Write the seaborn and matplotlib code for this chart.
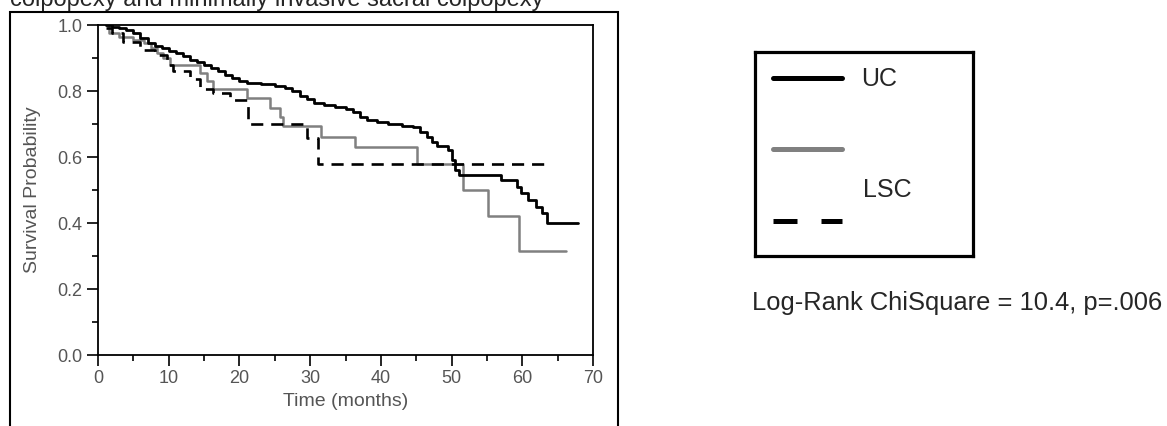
import matplotlib
matplotlib.use("Agg")
import matplotlib.pyplot as plt
import seaborn as sns
import pandas as pd
from matplotlib.lines import Line2D
from matplotlib.patches import Rectangle

# Kaplan-Meier step points (time in months, survival probability)
uc_time = [1.2, 2, 3, 4, 5, 6, 7, 8, 9, 10, 11, 12, 13, 14, 15, 16, 17, 18, 19, 20,
           21, 23, 25, 26.5, 27.5, 28.5, 29.5, 30.5, 32, 33.5, 35, 36, 37, 38, 39.5,
           41, 43, 44.5, 45.5, 46.5, 47.2, 48, 49.5, 50, 50.5, 51, 57, 59.3, 59.8,
           60.8, 62, 62.8, 63.5, 67.9]
uc_surv = [1.0, 0.995, 0.99, 0.985, 0.975, 0.96, 0.945, 0.935, 0.93, 0.92, 0.915, 0.905,
           0.895, 0.888, 0.878, 0.87, 0.86, 0.848, 0.838, 0.83, 0.824, 0.82, 0.815, 0.81,
           0.80, 0.785, 0.775, 0.765, 0.758, 0.752, 0.745, 0.735, 0.722, 0.712, 0.705,
           0.70, 0.695, 0.69, 0.675, 0.66, 0.645, 0.632, 0.62, 0.59, 0.562, 0.545, 0.53,
           0.51, 0.49, 0.47, 0.45, 0.43, 0.40, 0.40]

lsc_time = [1.2, 1.5, 3, 5, 6.5, 7.5, 8.3, 9.2, 10.2, 14.4, 15.4, 16.3, 21, 24.3, 25.7,
            26.2, 31.6, 36.3, 45.1, 51.6, 55.2, 59.5, 66.2]
lsc_surv = [1.0, 0.975, 0.965, 0.955, 0.945, 0.93, 0.915, 0.90, 0.88, 0.855, 0.83, 0.805,
            0.778, 0.748, 0.722, 0.695, 0.662, 0.63, 0.578, 0.50, 0.42, 0.315, 0.315]

dash_time = [1.2, 2, 3.5, 6, 8, 9.7, 10.6, 13, 14.4, 16.3, 18.7, 21.2, 29.5, 31.1, 63.5]
dash_surv = [0.99, 0.975, 0.95, 0.925, 0.91, 0.88, 0.86, 0.835, 0.805, 0.795, 0.773,
             0.70, 0.657, 0.58, 0.58]

x_ticks = [0, 10, 20, 30, 40, 50, 60, 70]
y_ticks = [0.0, 0.2, 0.4, 0.6, 0.8, 1.0]
legend_labels = ["UC", "", ""]
title_text = "colpopexy and minimally invasive sacral colpopexy"
stat_text = "Log-Rank ChiSquare = 10.4, p=.006"

sns.set_style("ticks")
plt.rcParams["font.family"] = ["Liberation Sans", "DejaVu Sans"]

W, H = 1167, 426
fig = plt.figure(figsize=(W / 100, H / 100), dpi=100)

# main survival axes
ax = fig.add_axes([98 / W, 1 - 355 / H, (593 - 98) / W, (355 - 25) / H])

uc_df = pd.DataFrame({"time": uc_time, "surv": uc_surv})
lsc_df = pd.DataFrame({"time": lsc_time, "surv": lsc_surv})
dash_df = pd.DataFrame({"time": dash_time, "surv": dash_surv})

sns.lineplot(data=lsc_df, x="time", y="surv", ax=ax, color="#808080", linewidth=1.8,
             drawstyle="steps-post", estimator=None, sort=False)
sns.lineplot(data=dash_df, x="time", y="surv", ax=ax, color="black", linewidth=1.9,
             drawstyle="steps-post", estimator=None, sort=False)
ax.lines[-1].set_dashes([4.6, 3.0])
sns.lineplot(data=uc_df, x="time", y="surv", ax=ax, color="black", linewidth=2.0,
             drawstyle="steps-post", estimator=None, sort=False)

ax.set_xlim(0, 70)
ax.set_ylim(0, 1.0)
ax.set_xticks(x_ticks)
ax.set_yticks(y_ticks)
ax.set_xticklabels([str(v) for v in x_ticks])
ax.set_yticklabels([f"{v:.1f}" for v in y_ticks])
ax.set_xticks([5, 15, 25, 35, 45, 55, 65], minor=True)
ax.set_yticks([0.1, 0.3, 0.5, 0.7, 0.9], minor=True)
ax.tick_params(which="major", length=8, width=1.2, color="black",
               labelcolor="#555555", labelsize=13, pad=3)
ax.tick_params(which="minor", length=4.5, width=1.2, color="black")
for s in ax.spines.values():
    s.set_linewidth(1.3)
    s.set_color("black")
ax.set_xlabel("Time (months)", fontsize=14, color="#555555", labelpad=4)
ax.set_ylabel("Survival Probability", fontsize=14, color="#555555", labelpad=12)

# legend box
lax = fig.add_axes([755 / W, 1 - 256 / H, (973 - 755) / W, (256 - 52) / H])
lax.set_xticks([])
lax.set_yticks([])
for s in lax.spines.values():
    s.set_linewidth(2.3)
    s.set_color("black")
handles = [
    Line2D([], [], color="black", linewidth=3.6),
    Line2D([], [], color="#808080", linewidth=3.6),
    Line2D([], [], color="black", linewidth=3.6, dashes=[4.8, 4.8]),
]
lax.legend(handles, legend_labels, loc="upper left", bbox_to_anchor=(-0.02, 1.035),
           frameon=False, fontsize=18, handlelength=2.75, handletextpad=0.75,
           labelspacing=1.9, borderpad=0.4)
lax.text(108 / 218, 1 - 138 / 204, "LSC", transform=lax.transAxes, fontsize=18,
         va="center", ha="left")

fig.text(752 / W, 1 - 303 / H, stat_text, fontsize=18.4, va="center", ha="left")

# outer frame and cut-off caption at the top
fig.patches.append(Rectangle((10 / W, -0.1), (618 - 10) / W, 0.1 + 1 - 12 / H,
                             transform=fig.transFigure, fill=False,
                             edgecolor="black", linewidth=1.5, zorder=0))
fig.text(10 / W, 1 - 6 / H, title_text, fontsize=17, va="baseline", ha="left")

fig.savefig("out.png", dpi=100)
